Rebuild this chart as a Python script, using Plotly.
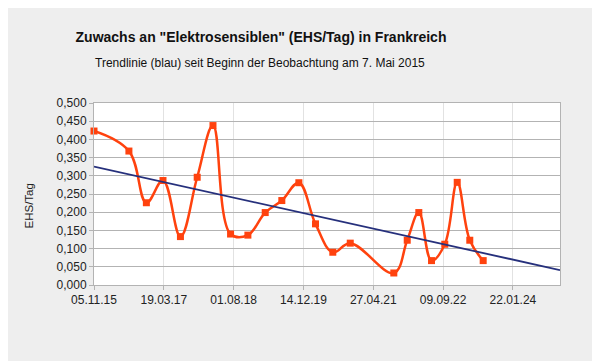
import plotly.graph_objects as go

# Data
dates = ["2015-11-05", "2016-07-12", "2016-11-14", "2017-03-13", "2017-07-16",
         "2017-11-13", "2018-03-06", "2018-07-10", "2018-11-11", "2019-03-15",
         "2019-07-12", "2019-11-11", "2020-03-09", "2020-07-11", "2020-11-13",
         "2021-09-21", "2021-12-26", "2022-03-19", "2022-06-18", "2022-09-21",
         "2022-12-19", "2023-03-19", "2023-06-23"]
ehs_per_day = [0.423, 0.368, 0.226, 0.287, 0.133,
               0.296, 0.438, 0.140, 0.137, 0.199,
               0.232, 0.281, 0.168, 0.090, 0.115,
               0.033, 0.123, 0.199, 0.067, 0.112,
               0.282, 0.123, 0.067]

trend_dates = ["2015-11-05", "2024-12-24"]
trend_values = [0.325, 0.041]

x_range = ["2015-11-05", "2024-12-24"]
y_range = [0, 0.5]

title_text = 'Zuwachs an "Elektrosensiblen" (EHS/Tag) in Frankreich'
subtitle_text = "Trendlinie (blau) seit Beginn der Beobachtung am 7. Mai 2015"
y_title = "EHS/Tag"

orange = "#ff420e"
navy = "#26307c"
font = "Liberation Sans, Arial, sans-serif"

# page offset of the figure div (default body margin)
OFF = 8
W, H = 600, 361
left, right, top, bottom = 94, 560, 103, 285

fig = go.Figure()
fig.add_trace(go.Scatter(
    x=dates, y=ehs_per_day, mode="lines+markers",
    line=dict(color=orange, width=2.5, shape="spline", smoothing=1.1),
    marker=dict(symbol="square", size=7, color=orange),
    showlegend=False, cliponaxis=False))
fig.add_trace(go.Scatter(
    x=trend_dates, y=trend_values, mode="lines",
    line=dict(color=navy, width=1.8), showlegend=False))

pw = right - left
ph = bottom - top
fig.update_layout(
    width=W, height=H,
    margin=dict(l=left - OFF, r=W + OFF - right, t=top - OFF, b=H + OFF - bottom),
    paper_bgcolor="#eeeeee", plot_bgcolor="#ffffff",
    separators=",.",
    font=dict(family=font, size=12, color="#222222"),
    title=dict(text="<b>" + title_text + "</b>", x=(261 - OFF) / W, xanchor="center",
               xref="container", y=1 - (37 - OFF) / H, yref="container", yanchor="middle",
               font=dict(family=font, size=14, color="#111111")),
    annotations=[
        dict(text=subtitle_text, x=(260 - left) / pw, xref="paper", y=(bottom - 63) / ph,
             yref="paper", showarrow=False, xanchor="center", yanchor="middle",
             font=dict(family=font, size=12, color="#111111")),
        dict(text=y_title, x=(28 - left) / pw, xref="paper", y=(bottom - 206.5) / ph,
             yref="paper", showarrow=False, textangle=-90, xanchor="center",
             yanchor="middle", font=dict(family=font, size=11.5, color="#222222")),
    ],
)

fig.update_xaxes(
    type="date", range=x_range, tick0="2015-11-05", dtick=500 * 86400000,
    tickformat="%d.%m.%y", showgrid=True, gridcolor="#e2e2e2", gridwidth=1,
    ticks="outside", ticklen=4, tickcolor="#b3b3b3",
    showline=True, linecolor="#b3b3b3", mirror=True, zeroline=False,
    tickfont=dict(size=12, color="#222222"))
fig.update_yaxes(
    range=y_range, dtick=0.05, tickformat=".3f", showgrid=True,
    gridcolor="#b3b3b3", gridwidth=1, ticks="outside", ticklen=4,
    tickcolor="#b3b3b3", showline=True, linecolor="#b3b3b3", mirror=True,
    zeroline=False, tickfont=dict(size=12, color="#222222"))

fig.write_html("out.html")
